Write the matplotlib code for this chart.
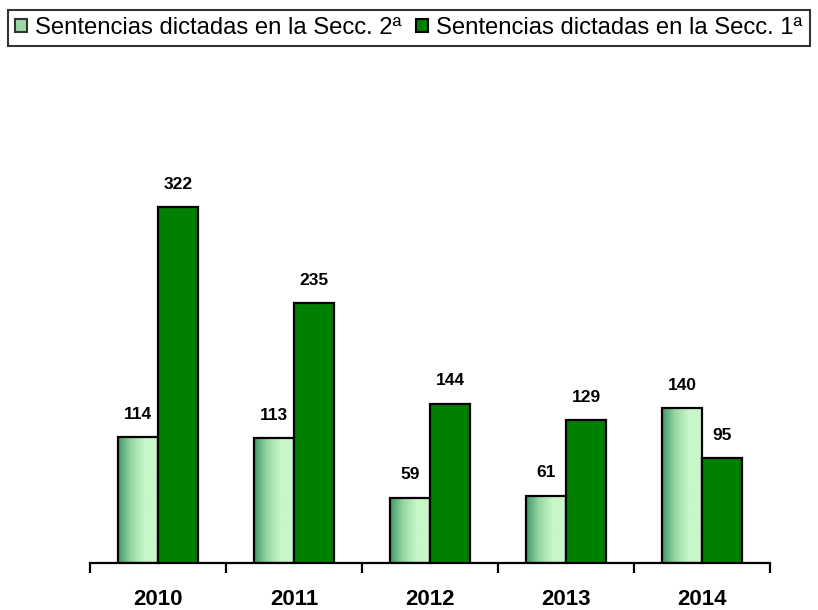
import numpy as np
import matplotlib
matplotlib.use("Agg")
import matplotlib.pyplot as plt
from matplotlib.patches import Patch
from matplotlib.colors import LinearSegmentedColormap

plt.rcParams['font.family'] = ['Liberation Sans', 'DejaVu Sans']

# ---------------- data ----------------
years = ["2010", "2011", "2012", "2013", "2014"]
secc2 = [114, 113, 59, 61, 140]
secc1 = [322, 235, 144, 129, 95]
labels = ["Sentencias dictadas en la Secc. 2ª", "Sentencias dictadas en la Secc. 1ª"]

DARK = "#008000"
grad = LinearSegmentedColormap.from_list("g", ["#3f9a66", "#9ad9a6", "#c8f7c8", "#c8f7c8"])

fig = plt.figure(figsize=(8.18, 6.10), dpi=100)
ax = fig.add_axes([90/818, 1-563/610, 680/818, 503/610])

x = np.arange(len(years))
w = 0.295
b2 = ax.bar(x - w/2, secc2, w, color="none", edgecolor="black", linewidth=1.6, zorder=3)
b1 = ax.bar(x + w/2, secc1, w, color=DARK, edgecolor="black", linewidth=1.6, zorder=3)

# gradient fill for the light bars
g = np.linspace(0, 1, 256).reshape(1, -1)
for r in b2:
    bx, by, bw, bh = r.get_x(), r.get_y(), r.get_width(), r.get_height()
    im = ax.imshow(g, cmap=grad, aspect="auto", extent=(bx, bx + bw, by, by + bh), zorder=2)
    im.set_clip_path(r)

for rects, vals in ((b2, secc2), (b1, secc1)):
    for r, v in zip(rects, vals):
        ax.annotate(str(v), (r.get_x() + r.get_width()/2, r.get_height()),
                    xytext=(0, 16.5), textcoords="offset points", ha="center", va="center",
                    fontsize=12.5, fontweight="bold")

ax.set_xlim(-0.5, len(years) - 0.5)
ax.set_ylim(0, 455)
ax.set_xticks(np.arange(-0.5, len(years)), [""] * (len(years) + 1))
ax.set_xticks(x, years, minor=True)
ax.tick_params(axis="x", which="major", length=7, width=1.6, direction="out")
ax.tick_params(axis="x", which="minor", length=0, pad=18.5, labelsize=16)
for t in ax.get_xticklabels(minor=True):
    t.set_fontweight("bold")
ax.set_yticks([])
for s in ("top", "right", "left"):
    ax.spines[s].set_visible(False)
ax.spines["bottom"].set_linewidth(1.6)

handles = [Patch(facecolor="#9ad9a6", edgecolor="#333333", linewidth=1.5),
           Patch(facecolor=DARK, edgecolor="black", linewidth=1.5)]
leg = fig.legend(handles, labels, loc="upper left", bbox_to_anchor=(8/818, 1 - 10/610),
                 ncol=2, frameon=True, fancybox=False, fontsize=17.2,
                 handlelength=0.5, handleheight=0.5, handletextpad=0.35, columnspacing=0.6,
                 borderpad=0.3, borderaxespad=0)
leg.get_frame().set_edgecolor("black")
leg.get_frame().set_linewidth(1.5)

fig.savefig("out.png", dpi=100)
